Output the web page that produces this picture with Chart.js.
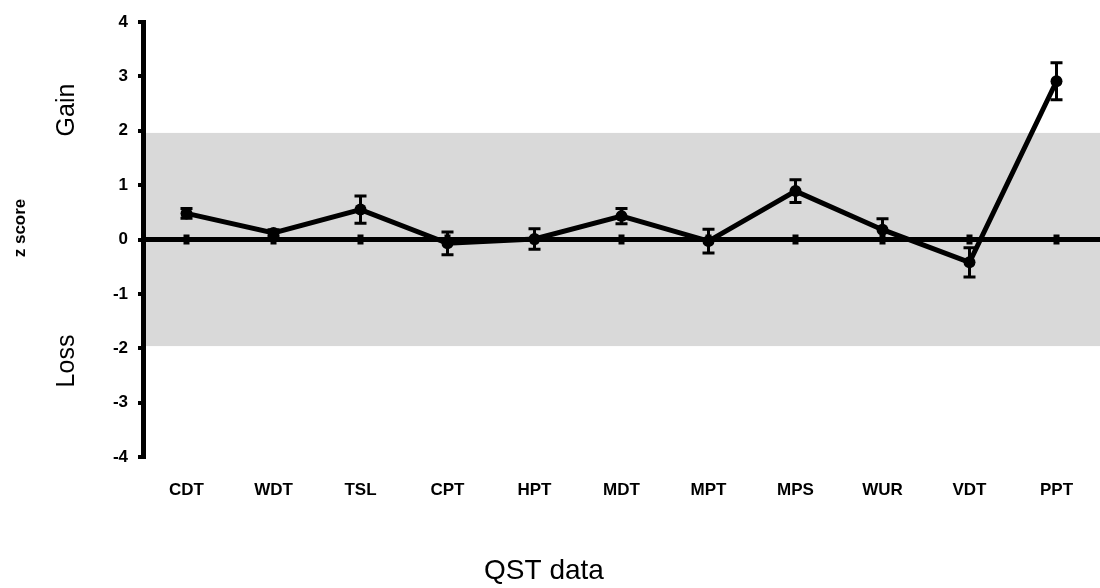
<!DOCTYPE html>
<html>
<head>
<meta charset="utf-8">
<script src="https://cdn.jsdelivr.net/npm/chart.js@4"></script>
<style>
  html, body { margin: 0; padding: 0; background: #fff; }
  #wrap { width: 1100px; height: 588px; position: relative; }
</style>
</head>
<body>
<div id="wrap"><canvas id="qstChart"></canvas></div>
<script>
// QST z-score profile
const categories = ['CDT', 'WDT', 'TSL', 'CPT', 'HPT', 'MDT', 'MPT', 'MPS', 'WUR', 'VDT', 'PPT']
const zMeans = [0.48, 0.12, 0.55, -0.07, 0.01, 0.43, -0.03, 0.89, 0.18, -0.42, 2.91]
const zErrors = [0.09, 0.06, 0.25, 0.21, 0.19, 0.14, 0.22, 0.21, 0.20, 0.27, 0.34]
const normalRange = [-1.96, 1.96]
const yLimits = [-4, 4]

const FONT = '"Liberation Sans", Arial, Helvetica, sans-serif'

// grey band, zero line, error bars and side labels
const qstDecor = {
  id: 'qstDecor',
  beforeDraw(chart) {
    const { ctx, chartArea, scales } = chart
    const y = scales.y
    ctx.save()
    ctx.fillStyle = '#d9d9d9'
    const top = y.getPixelForValue(normalRange[1])
    const bottom = y.getPixelForValue(normalRange[0])
    ctx.fillRect(chartArea.left, top, chart.width - chartArea.left, bottom - top)
    ctx.restore()
  },
  beforeDatasetsDraw(chart) {
    const { ctx, chartArea, scales } = chart
    const y0 = scales.y.getPixelForValue(0)
    ctx.save()
    ctx.strokeStyle = '#000'
    ctx.lineWidth = 5
    ctx.beginPath()
    ctx.moveTo(chartArea.left, y0)
    ctx.lineTo(chart.width, y0)
    ctx.stroke()
    ctx.fillStyle = '#000'
    categories.forEach((c, i) => {
      const x = scales.x.getPixelForValue(i)
      ctx.fillRect(x - 3, y0 - 5, 6, 10)
    })
    ctx.restore()
  },
  afterDatasetsDraw(chart) {
    const { ctx, scales } = chart
    ctx.save()
    ctx.strokeStyle = '#000'
    ctx.lineWidth = 3
    zMeans.forEach((v, i) => {
      const x = scales.x.getPixelForValue(i)
      const hi = scales.y.getPixelForValue(v + zErrors[i])
      const lo = scales.y.getPixelForValue(v - zErrors[i])
      ctx.beginPath()
      ctx.moveTo(x, hi)
      ctx.lineTo(x, lo)
      ctx.moveTo(x - 6, hi)
      ctx.lineTo(x + 6, hi)
      ctx.moveTo(x - 6, lo)
      ctx.lineTo(x + 6, lo)
      ctx.stroke()
    })
    ctx.restore()
  },
  afterDraw(chart) {
    const { ctx } = chart
    const side = (text, x, y, font) => {
      ctx.save()
      ctx.translate(x, y)
      ctx.rotate(-Math.PI / 2)
      ctx.font = font
      ctx.fillStyle = '#000'
      ctx.textAlign = 'center'
      ctx.textBaseline = 'middle'
      ctx.fillText(text, 0, 0)
      ctx.restore()
    }
    side('z score', 20, 228, 'bold 17px ' + FONT)
    side('Gain', 67, 110, '25px ' + FONT)
    side('Loss', 67, 361, '25px ' + FONT)

    ctx.save()
    ctx.font = '28px ' + FONT
    ctx.fillStyle = '#000'
    ctx.textAlign = 'center'
    ctx.textBaseline = 'middle'
    ctx.fillText('QST data', 544, 571)
    ctx.restore()
  }
}

const ctx = document.getElementById('qstChart').getContext('2d')
const qstChart = new Chart(ctx, {
  type: 'line',
  data: {
    labels: categories,
    datasets: [{
      label: 'z score',
      data: zMeans,
      borderColor: '#000',
      backgroundColor: '#000',
      borderWidth: 5,
      pointRadius: 6,
      pointBorderWidth: 0,
      tension: 0,
      fill: false
    }]
  },
  options: {
    responsive: true,
    maintainAspectRatio: false,
    animation: false,
    layout: { autoPadding: false, padding: { top: 22, right: -4, left: 0, bottom: 0 } },
    plugins: {
      legend: { display: false },
      tooltip: { enabled: false }
    },
    scales: {
      x: {
        offset: true,
        grid: { display: false },
        border: { display: false },
        ticks: {
          color: '#000',
          font: { family: FONT, size: 17, weight: 'bold' },
          padding: 15,
          maxRotation: 0,
          autoSkip: false
        },
        afterFit(scale) { scale.height = 131 }
      },
      y: {
        min: yLimits[0],
        max: yLimits[1],
        grid: {
          drawOnChartArea: false,
          drawTicks: true,
          tickLength: 5,
          lineWidth: 4,
          color: '#000'
        },
        border: { display: true, color: '#000', width: 5 },
        ticks: {
          stepSize: 1,
          color: '#000',
          padding: 10,
          font: { family: FONT, size: 17, weight: 'bold' }
        },
        afterFit(scale) { scale.width = 143 }
      }
    }
  },
  plugins: [qstDecor]
})
</script>
</body>
</html>
